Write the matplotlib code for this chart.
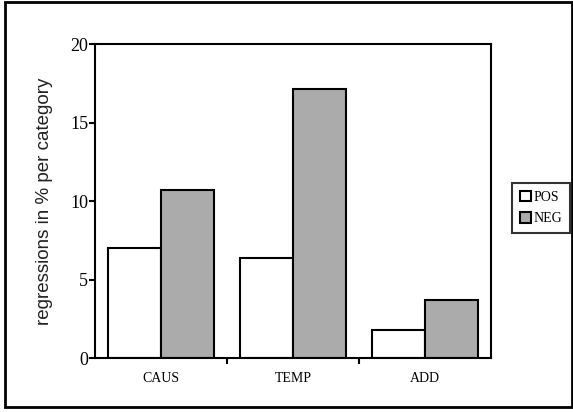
import matplotlib.pyplot as plt
from matplotlib.patches import Rectangle
import numpy as np

categorias = ['CAUS', 'TEMP', 'ADD']
pos = [7.0, 6.35, 1.76]
neg = [10.7, 17.15, 3.67]

fig = plt.figure(figsize=(5.73, 4.12), dpi=100)
ax = fig.add_axes([0.166, 0.131, 0.691, 0.762])

x = np.arange(len(categorias))
larg = 0.4
ax.bar(x - larg / 2, pos, larg, color='white', edgecolor='black', linewidth=1.5, label='POS')
ax.bar(x + larg / 2, neg, larg, color='#ababab', edgecolor='black', linewidth=1.5, label='NEG')

ax.set_xlim(-0.5, 2.5)
ax.set_ylim(0, 20)
ax.set_yticks([0, 5, 10, 15, 20])
ax.set_xticks(x)
ax.set_xticklabels(categorias, family='Liberation Serif', fontsize=10)
ax.set_xticks([0.5, 1.5], minor=True)
ax.tick_params(axis='x', which='major', length=0, pad=10)
ax.tick_params(axis='x', which='minor', length=4, width=1.5, direction='out')
ax.tick_params(axis='y', length=4, width=1.5, pad=1, labelsize=13)
for lbl in ax.get_yticklabels():
    lbl.set_family('Liberation Serif')
for s in ax.spines.values():
    s.set_linewidth(1.5)

ax.set_ylabel('regressions in % per category', family='Liberation Sans', fontsize=13.5,
              labelpad=12, color='#222222')

leg = fig.legend(loc='upper left', bbox_to_anchor=(0.894, 0.556), prop={'family': 'Liberation Serif', 'size': 10},
                 frameon=True, fancybox=False, edgecolor='black', handlelength=0.8, handleheight=0.8,
                 handletextpad=0.2, borderpad=0.55, labelspacing=0.6, borderaxespad=0)
leg.get_frame().set_linewidth(1.5)

# moldura externa
fig.patches.append(Rectangle((0.009, 0.012), 0.99, 0.982, transform=fig.transFigure,
                             fill=False, edgecolor='black', linewidth=2))

fig.savefig('out.png', dpi=100)
